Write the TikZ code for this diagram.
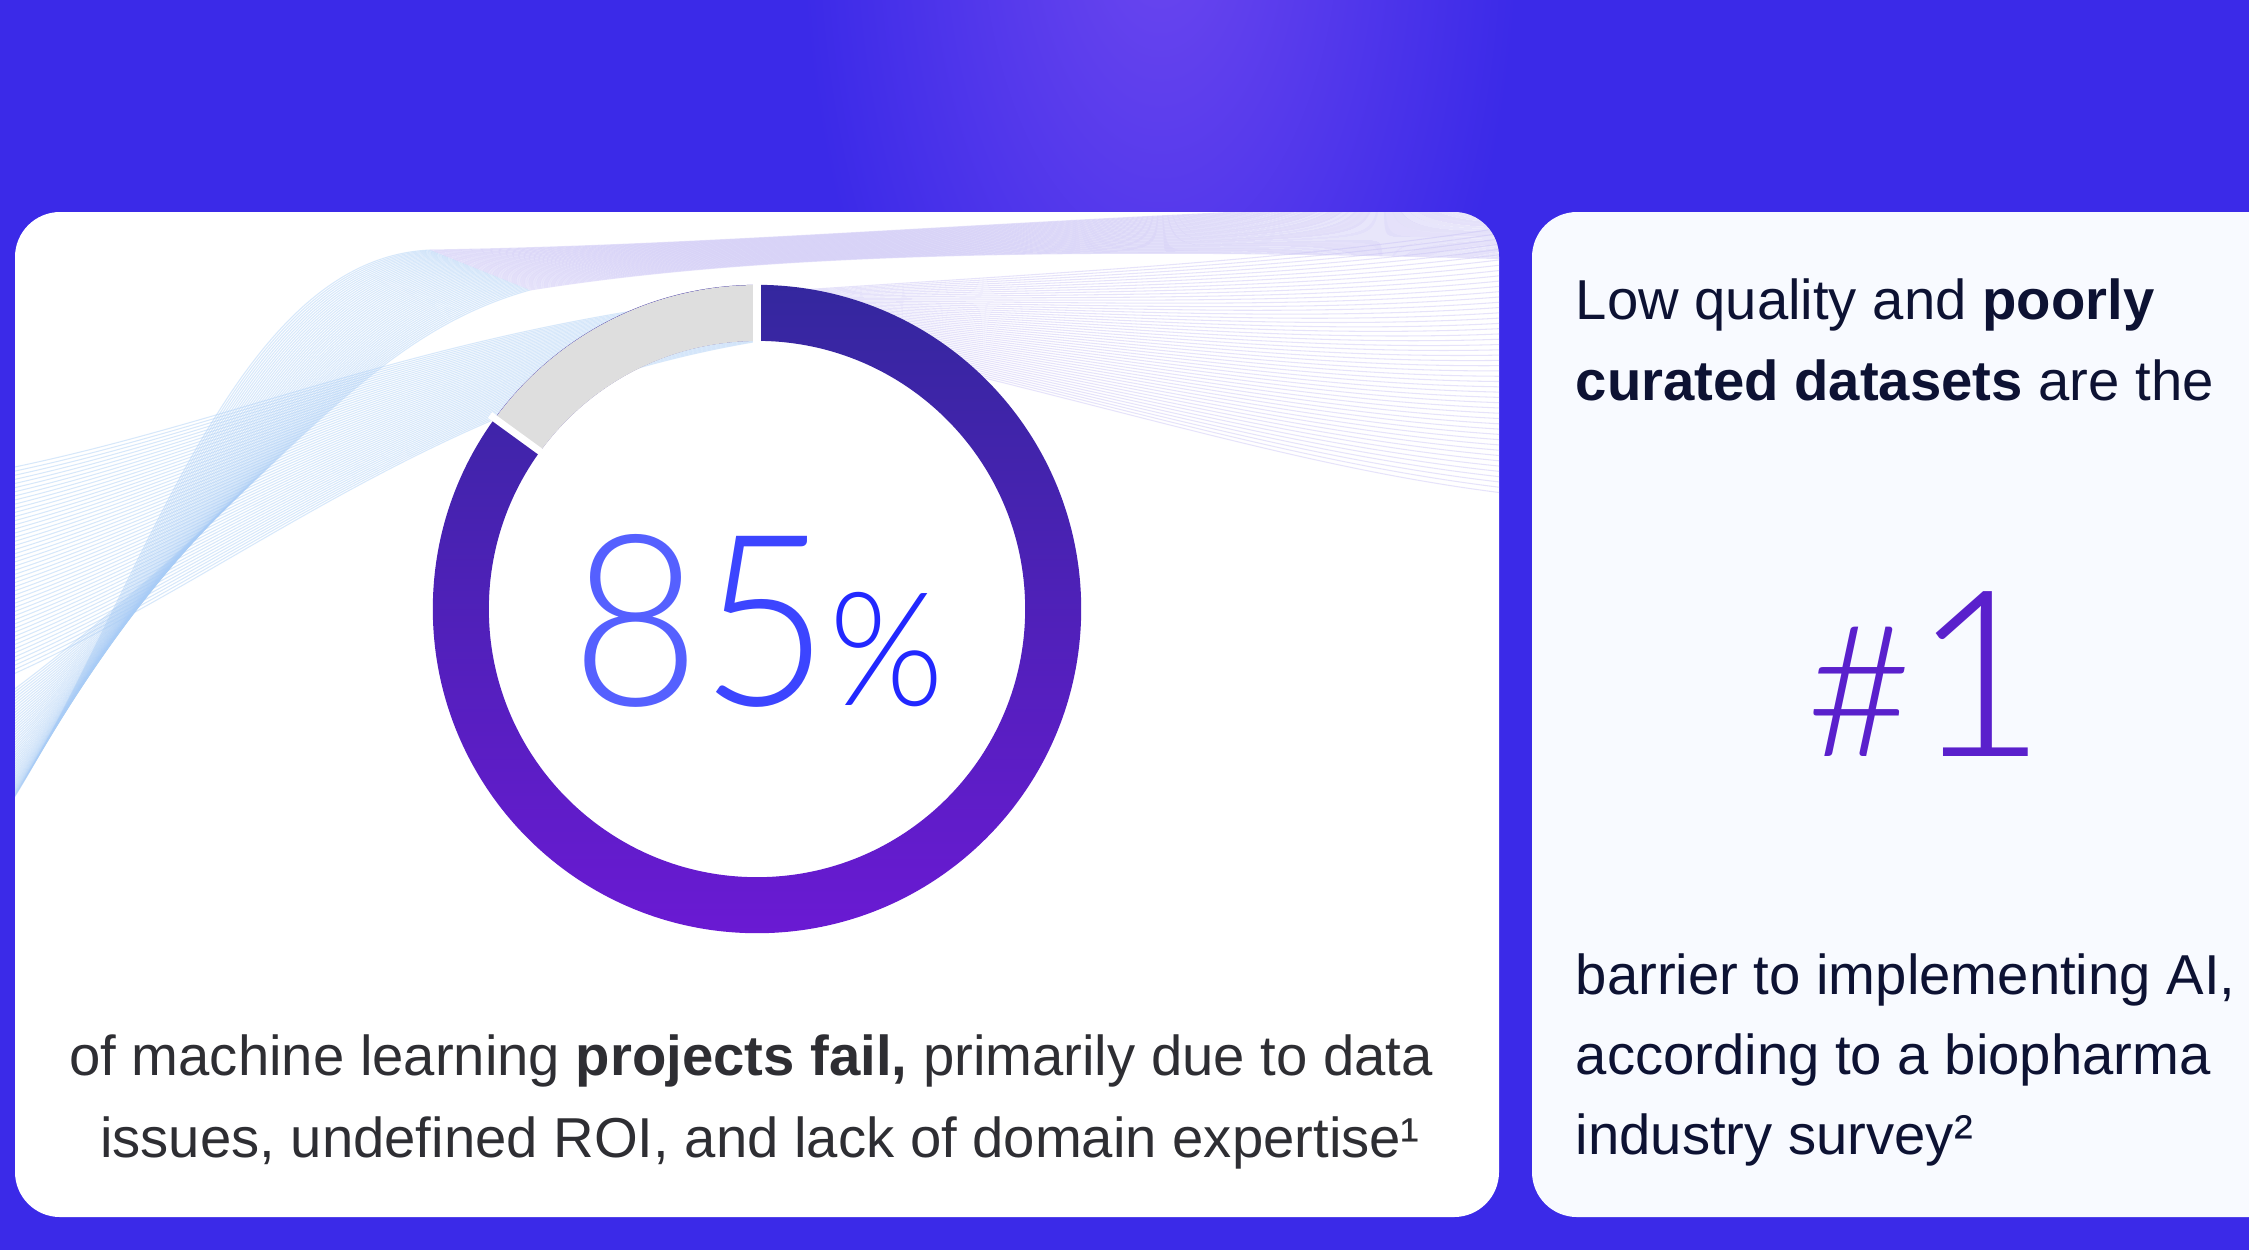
\documentclass[tikz,border=0pt]{standalone}
\usepackage{fontspec}
\usepackage{graphicx}
\setmainfont{Liberation Sans}
\newfontfamily\thinfont{Lato Light}
\usetikzlibrary{calc}

\definecolor{bgblue}{HTML}{3B2AE8}
\definecolor{glow}{HTML}{6C47EF}
\definecolor{cardtint}{HTML}{F8FAFF}
\definecolor{ringtop}{HTML}{34279E}
\definecolor{ringbot}{HTML}{6A1AD3}
\definecolor{ringgray}{HTML}{DEDEDE}
\definecolor{waveblue}{HTML}{A8CCF6}
\definecolor{wavelav}{HTML}{C9C2F6}
\definecolor{inkgray}{HTML}{2E2E33}
\definecolor{inknavy}{HTML}{0D1233}
\definecolor{numA}{HTML}{5560FF}
\definecolor{numB}{HTML}{3C45FF}
\definecolor{numC}{HTML}{2228FF}
\definecolor{hashcol}{HTML}{5A20CC}

\begin{document}
\begin{tikzpicture}[x=0.01cm, y=-0.01cm,
		wave/.style={line width=0.3pt, draw opacity=0.45},
		txt/.style={anchor=base west, inner sep=0pt, font=\fontsize{16pt}{19pt}\selectfont, text=inknavy},
		lowtxt/.style={anchor=base, inner sep=0pt, font=\fontsize{16pt}{19pt}\selectfont, text=inkgray}]
	\useasboundingbox (0,0) rectangle (2249,1250);

	% Background with the glow at the top
	\fill[bgblue] (0,0) rectangle (2249,1250);
	\begin{scope}
		\clip (0,0) rectangle (2249,1250);
		\shade[inner color=glow, outer color=bgblue] (1160,-100) ellipse [x radius=3.6cm, y radius=7cm];
	\end{scope}

	% The two cards
	\fill[white, rounded corners=0.45cm] (15,212) rectangle (1499,1217);
	\fill[cardtint, rounded corners=0.45cm] (1532,212) rectangle (2320,1217);

	% Waves, kept inside the left card
	\begin{scope}
		\clip[rounded corners=0.45cm] (15,212) rectangle (1499,1217);
		\foreach \i in {0,...,50}{
			\pgfmathsetmacro{\t}{\i/50}
			\draw[wave, waveblue] ({-60+60*\t},{900-200*\t}) .. controls ({120+150*\t},{700-200*\t}) and ({200+150*\t},{260+80*\t}) .. ({430+100*\t},{250+40*\t});
			\draw[wave, wavelav] ({430+100*\t},{250+40*\t}) .. controls (750,{245+10*\t}) and (1050,{215+30*\t}) .. (1550,{200+60*\t});
			\draw[wave, waveblue] (0,{470+210*\t}) .. controls (250,{420+150*\t}) and (450,{320+60*\t}) .. (800,{290+45*\t});
			\draw[wave, wavelav] (800,{290+45*\t}) .. controls (1100,{270+130*\t}) and (1300,{260+210*\t}) .. (1520,{225+270*\t});
		}
	\end{scope}

	% Donut: 85 % filled, the rest in gray
	\coordinate (dc) at (757,609);
	\shade[top color=ringtop, bottom color=ringbot, even odd rule] (dc) circle[radius=3.24cm] (dc) circle[radius=2.68cm];
	\fill[ringgray] plot[domain=90:144, samples=40] ({757+324*cos(\x)},{609-324*sin(\x)})
		-- plot[domain=144:90, samples=40] ({757+268*cos(\x)},{609-268*sin(\x)}) -- cycle;
	\draw[white, line width=2pt] ({757+330*cos(90)},{609-330*sin(90)}) -- ({757+262*cos(90)},{609-262*sin(90)});
	\draw[white, line width=2pt] ({757+330*cos(144)},{609-330*sin(144)}) -- ({757+262*cos(144)},{609-262*sin(144)});

	\node[anchor=base west, inner sep=0pt] (pct) at (571,705)
		{\scalebox{0.93}[1]{\thinfont\fontsize{68pt}{68pt}\selectfont\color{numA}8\color{numB}5\fontsize{45pt}{45pt}\selectfont\color{numC}\%}};

	% Text under the donut
	\node[lowtxt] (low1) at (751,1075) {of machine learning \textbf{projects fail,} primarily due to data};
	\node[lowtxt] (low2) at (760,1157) {issues, undefined ROI, and lack of domain expertise¹};

	% Right card
	\node[txt] (top1) at (1575,319) {Low quality and \textbf{poorly}};
	\node[txt] (top2) at (1575,400) {\textbf{curated datasets} are the};
	\node[anchor=base west, inner sep=0pt, text=hashcol] (rank) at (1806,756)
		{\thinfont\fontsize{52pt}{52pt}\selectfont\#\fontsize{66pt}{66pt}\selectfont 1};
	\node[txt] (bot1) at (1575,994) {barrier to implementing AI,};
	\node[txt] (bot2) at (1575,1074) {according to a biopharma};
	\node[txt] (bot3) at (1575,1154) {industry survey²};
\end{tikzpicture}
\end{document}
